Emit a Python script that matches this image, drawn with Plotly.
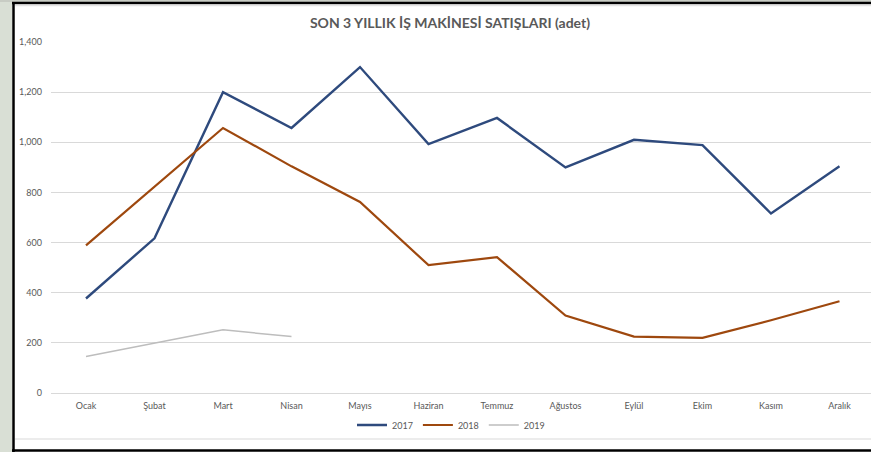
import plotly.graph_objects as go

months = ["Ocak", "Şubat", "Mart", "Nisan", "Mayıs", "Haziran", "Temmuz",
          "Ağustos", "Eylül", "Ekim", "Kasım", "Aralık"]
sales_2017 = [377, 617, 1200, 1057, 1300, 993, 1097, 900, 1010, 989, 716, 904]
sales_2018 = [589, 822, 1057, 904, 762, 510, 542, 309, 225, 220, 290, 366]
sales_2019 = [146, 199, 252, 225]
y_ticks = [0, 200, 400, 600, 800, 1000, 1200, 1400]
y_tick_labels = ["0", "200", "400", "600", "800", "1,000", "1,200", "1,400"]

W, H = 871, 452
PL, PR = 51, 871          # plot area left/right in px
PT, PB = 42, 393          # plot area top/bottom in px


def px(x):
    return (x - PL) / (PR - PL)


def py(y):
    return (PB - y) / (PB - PT)


fig = go.Figure()
fig.add_trace(go.Scatter(x=months, y=sales_2017, mode="lines", name="2017",
                         line=dict(color="#2E4A7D", width=2.4)))
fig.add_trace(go.Scatter(x=months, y=sales_2018, mode="lines", name="2018",
                         line=dict(color="#9E480E", width=2.2)))
fig.add_trace(go.Scatter(x=months[:len(sales_2019)], y=sales_2019, mode="lines", name="2019",
                         line=dict(color="#BDBDBD", width=1.5)))

shapes = [
    # left grey strip
    dict(type="rect", xref="paper", yref="paper", x0=px(0), x1=px(12), y0=py(H), y1=py(0),
         fillcolor="#D9DFD5", line=dict(width=0), layer="below"),
    # top grey strip
    dict(type="rect", xref="paper", yref="paper", x0=px(0), x1=px(W), y0=py(2), y1=py(0),
         fillcolor="#C8CCC4", line=dict(width=0), layer="below"),
    # black left border
    dict(type="line", xref="paper", yref="paper", x0=px(13.5), x1=px(13.5), y0=py(H), y1=py(2),
         line=dict(color="#000000", width=2.5)),
    # black top border
    dict(type="line", xref="paper", yref="paper", x0=px(12), x1=px(W), y0=py(3), y1=py(3),
         line=dict(color="#000000", width=2.5)),
    # light inner top line
    dict(type="line", xref="paper", yref="paper", x0=px(15), x1=px(W), y0=py(5.5), y1=py(5.5),
         line=dict(color="#E3E3E3", width=1.5)),
    # light inner bottom line
    dict(type="line", xref="paper", yref="paper", x0=px(15), x1=px(W), y0=py(439), y1=py(439),
         line=dict(color="#D9D9D9", width=1)),
    # black bottom border
    dict(type="line", xref="paper", yref="paper", x0=px(12), x1=px(W), y0=py(450.5), y1=py(450.5),
         line=dict(color="#000000", width=2.5)),
]

fig.update_layout(
    width=W, height=H,
    margin=dict(l=PL, r=W - PR, t=PT, b=H - PB, pad=0, autoexpand=False),
    paper_bgcolor="#FFFFFF", plot_bgcolor="#FFFFFF",
    font=dict(family="Lato, Open Sans, sans-serif", size=9, color="#595959"),
    title=dict(text="<b>SON 3 YILLIK İŞ MAKİNESİ SATIŞLARI (adet)</b>",
               font=dict(family="Lato, Open Sans, sans-serif", size=14, color="#595959"),
               x=px(450), xref="paper", xanchor="center",
               y=1 - 23 / H, yref="container", yanchor="middle"),
    showlegend=True,
    legend=dict(orientation="h", x=px(451), xanchor="center", y=py(425), yanchor="middle",
                font=dict(size=9, color="#595959"), itemwidth=30,
                bgcolor="rgba(0,0,0,0)", tracegroupgap=0),
    shapes=shapes,
)

fig.update_xaxes(
    type="category", range=[-0.511, 11.46], showgrid=False, zeroline=False,
    showline=False, ticks="", ticklabelstandoff=6,
    tickfont=dict(size=9, color="#595959"), fixedrange=True,
)
fig.update_yaxes(
    range=[0, 1400], tickvals=y_ticks, ticktext=y_tick_labels,
    showgrid=True, gridcolor="#D9D9D9", gridwidth=1,
    zeroline=True, zerolinecolor="#D9D9D9", zerolinewidth=1,
    showline=False, ticks="", ticklabelstandoff=8,
    tickfont=dict(size=9, color="#595959"), fixedrange=True,
)

fig.write_html(
    "out.html",
    config={"displayModeBar": False},
    post_script="document.body.style.margin='0';document.body.style.overflow='hidden';",
)
